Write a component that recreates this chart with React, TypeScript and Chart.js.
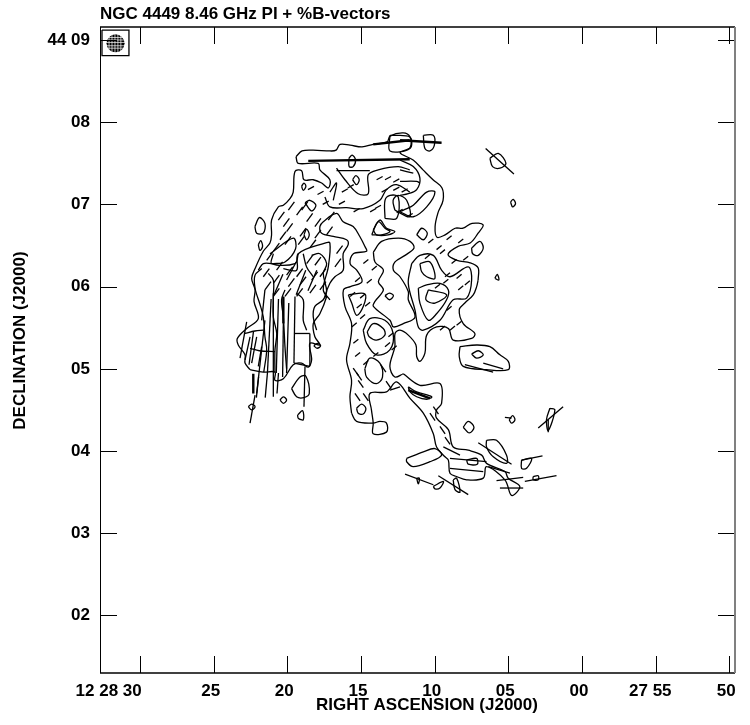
import React, { useEffect, useRef } from "react";
import { Chart, registerables } from "chart.js";

Chart.register(...registerables);

const raTickValues = [30, 25, 20, 15, 10, 5, 0, -5, -10];
const raTickLabels = ["12 28 30            ", "25", "20", "15", "10", "05", "00", "27 55 ", "50"];
const decTickValues = [9, 8, 7, 6, 5, 4, 3, 2];
const decTickLabels = ["44 09", "08", "07", "06", "05", "04", "03", "02"];

const titleText = "NGC 4449 8.46 GHz PI + %B-vectors";
const raTitle = "    RIGHT ASCENSION (J2000)";
const decTitle = "    DECLINATION (J2000)";

// Contours: flat [RA seconds, Dec arcmin, ...]
const northRim = [19.41,7.58, 19.0,7.65, 18.25,7.66, 17.10,7.65, 16.69,7.66, 16.42,7.73, 15.74,7.72, 14.93,7.70, 14.18,7.73, 13.23,7.76, 13.03,7.83, 12.14,7.87, 11.67,7.82, 11.67,7.69, 12.35,7.63, 11.46,7.54, 10.79,7.42, 10.11,7.30, 9.50,7.20, 9.43,7.05, 9.77,6.90, 9.97,6.73, 9.84,6.60, 9.29,6.63, 8.61,6.71, 8.07,6.71, 7.46,6.77, 6.71,6.75, 7.05,6.65, 7.59,6.53, 8.41,6.49, 9.09,6.39, 8.48,6.32, 7.59,6.29, 7.05,6.23, 7.05,6.08];
const eastLobe = [7.05,6.08, 7.15,6.0, 7.38,5.90, 7.95,5.80, 8.33,5.72, 8.06,5.55, 7.27,5.43, 7.49,5.37, 8.74,5.35, 9.07,5.49, 9.87,5.51, 10.54,5.41, 10.66,5.19, 11.0,5.09, 11.22,5.15, 11.27,5.29, 11.79,5.41, 12.35,5.47, 12.69,5.43, 12.70,5.27, 13.04,5.03, 12.70,4.90, 12.13,4.94];
const southRidge = [12.13,4.94, 11.0,4.80, 9.64,4.82, 9.53,4.58, 9.87,4.50, 9.87,4.40, 9.07,4.26, 8.74,4.05, 7.72,4.01, 6.81,3.95, 6.48,3.85, 5.23,3.75, 5.01,3.67, 4.22,3.57, 4.78,3.46, 5.23,3.65, 6.48,3.81, 6.70,3.67, 7.83,3.65, 8.51,3.69, 8.96,3.73, 9.07,3.89, 9.30,3.93, 9.87,4.05, 10.09,4.21, 10.77,4.46, 11.67,4.64, 12.58,4.84, 13.27,4.72, 14.40,4.70, 14.29,4.50, 14.17,4.34, 14.17,4.21, 13.27,4.23, 13.27,4.34, 13.72,4.36, 14.17,4.34, 15.3,4.36, 15.64,4.46];
const centralWest = [15.64,4.46, 15.75,4.66, 15.64,4.86, 15.98,5.11, 15.75,5.31, 15.64,5.55, 16.09,5.76, 16.19,5.96, 15.72,6.0, 14.93,6.06, 15.29,6.20, 15.74,6.28, 15.52,6.40, 14.62,6.43, 14.74,6.49, 15.08,6.61, 15.53,6.73, 16.21,6.79, 16.66,6.89, 17.56,6.79, 17.79,6.73, 17.67,6.65, 16.88,6.61, 15.98,6.57, 15.87,6.51, 16.21,6.40, 16.21,6.20, 16.77,6.12, 17.11,6.04, 17.45,5.88, 17.33,5.88, 17.79,5.67, 18.24,5.55, 18.13,5.39, 17.79,5.29, 18.47,5.31, 18.35,5.11, 18.58,5.02, 19.03,5.07, 19.60,5.05, 20.27,4.88, 20.84,4.86, 20.84,4.96, 21.63,4.96, 22.53,4.99];
const westArch = [22.53,4.99, 22.87,5.07, 22.87,5.17, 23.33,5.29, 23.39,5.37, 22.76,5.49, 21.97,5.61, 22.26,5.82, 22.19,5.96, 22.42,6.10, 22.19,6.22, 21.63,6.43, 21.18,6.53, 21.07,6.63, 21.07,6.81, 20.61,6.97, 20.27,6.99, 19.82,7.07, 19.60,7.15, 19.48,7.40, 19.03,7.41, 18.87,7.30, 18.24,7.30, 17.67,7.26, 17.22,7.20, 17.11,7.30, 17.79,7.42, 17.90,7.50, 19.26,7.50, 19.41,7.58];

const archInnerA = [21.18,6.40, 19.60,6.59, 19.44,6.46, 20.16,6.30, 20.95,6.28, 21.63,6.28, 21.97,6.20];
const archInnerB = [20.27,6.22, 19.37,6.20, 19.26,6.40, 17.45,6.53, 17.11,6.53, 17.22,6.24, 17.56,5.96, 17.11,5.84];
const bundleA = [21.74,6.22, 22.19,6.14, 22.19,5.98, 21.85,5.78, 21.63,5.63, 21.52,5.39, 21.4,5.23, 21.6,4.96];
const bundleB = [20.95,6.40, 21.06,6.28, 19.48,6.28, 19.26,6.40];
const bundleC = [21.29,6.16, 20.95,6.08, 20.95,5.88, 20.95,5.63, 20.72,5.43, 20.84,5.23, 20.84,4.96];
const bundleD = [20.16,5.96, 20.39,5.84, 20.27,5.63, 20.16,5.27, 20.05,5.0];
const bundleE = [19.37,5.92, 18.92,5.84, 18.92,5.59, 18.69,5.47];
const bundleF = [18.92,6.40, 18.69,6.24, 18.24,6.12];
const bundleG = [18.35,6.38, 17.79,6.40, 17.33,6.28, 17.56,6.16, 17.33,5.94, 17.56,5.84, 18.13,5.76, 18.24,5.63, 18.01,5.47];
const lobeCrossA = [22.88,5.43, 22.2,5.46, 21.63,5.47];
const lobeCrossB = [22.53,5.25, 21.9,5.22, 20.84,5.21];
const northInnerA = [16.66,7.44, 16.09,7.30, 15.19,7.13, 14.51,7.13, 14.51,7.36, 13.83,7.42, 12.48,7.46, 11.69,7.42];
const northInnerB = [17.45,7.09, 17.11,6.97, 15.98,6.96, 14.85,6.95, 13.72,7.05, 13.27,7.18, 12.59,7.24, 11.69,7.15];
const northInnerC = [17.11,7.15, 16.66,7.26, 16.88,7.05];
const northInnerD = [12.35,7.54, 11.45,7.46, 11.0,7.32, 11.22,7.18, 11.79,7.13, 12.35,7.11];
const northInnerE = [12.35,7.42, 11.45,7.38];
const northInnerF = [12.35,7.28, 11.22,7.28, 11.0,7.26];
const lobeR5 = [11.56,6.28, 11,6.38, 10.09,6.38, 9.53,6.20, 8.96,6.12, 7.72,6.24, 7.49,6.08, 7.83,5.86, 8.74,5.84, 9.64,5.59, 10.77,5.47, 11.11,5.51, 11.33,5.71, 11.79,6.04];

const closedRings = [
  [14.16,6.42, 13.6,6.55, 12.46,6.59, 11.67,6.55, 11.4,6.47, 12.01,6.38, 12.69,6.30, 12.80,6.20, 12.35,6.12, 11.79,5.94, 11.79,5.84, 11.33,5.63, 12.13,5.55, 12.8,5.51, 13.03,5.59, 14.16,5.76, 14.05,5.82, 13.48,5.96, 13.82,6.06, 13.48,6.20, 14.05,6.30],
  [13.37,5.89, 13.07,5.92, 12.8,5.89, 13.07,5.84],
  [11.22,6.63, 10.88,6.71, 10.5,6.65, 10.77,6.57],
  [14.27,6.63, 13.82,6.79, 13.37,6.71, 13.03,6.67, 13.6,6.63],
  [11,6.28, 10.32,6.30, 9.98,6.10, 10.54,6.12, 10.88,6.18],
  [11.11,5.98, 10.54,6.02, 9.64,6.04, 9.07,5.96, 9.19,5.84, 9.87,5.67, 10.43,5.59, 11,5.80],
  [10.43,5.96, 10.59,5.84, 9.98,5.80, 9.19,5.90],
  [15.86,5.90, 14.73,5.91, 14.84,5.76, 15.29,5.65, 15.63,5.80],
  [14.85,5.47, 14.4,5.61, 13.38,5.59, 12.82,5.43, 13.04,5.23, 13.95,5.17, 14.62,5.31],
  [14.58,5.45, 14.17,5.55, 13.49,5.49, 13.38,5.41, 13.95,5.35, 14.44,5.39],
  [14.74,5.0, 14.4,5.13, 13.72,5.07, 13.54,4.90, 13.95,4.82, 14.62,4.90],
  [15.3,4.52, 14.96,4.57, 14.67,4.52, 14.85,4.45, 15.19,4.46],
  [19.71,4.76, 19.14,4.90, 18.74,4.91, 18.51,4.70, 18.87,4.65, 19.37,4.66],
  [20.5,4.62, 20.27,4.66, 20.05,4.62, 20.27,4.58],
  [19.30,4.44, 18.96,4.49, 18.92,4.38, 19.26,4.40],
  [22.65,4.54, 22.42,4.57, 22.19,4.54, 22.42,4.50],
  [18.2,5.28, 17.97,5.31, 17.74,5.28, 17.97,5.25],
  [22.2,6.73, 21.9,6.84, 21.52,6.77, 21.63,6.65, 22.08,6.65],
  [21.97,6.51, 21.81,6.56, 21.68,6.49, 21.86,6.44],
  [18.87,6.63, 18.69,6.70, 18.51,6.63, 18.69,6.57],
  [18.80,7.02, 18.47,7.05, 18.06,6.99, 18.35,6.92],
  [19.03,7.22, 18.87,7.26, 18.74,7.22, 18.92,7.17],
  [15.82,7.56, 15.6,7.60, 15.37,7.54, 15.53,7.46, 15.8,7.46],
  [15.57,7.30, 15.35,7.35, 15.12,7.30, 15.3,7.24],
  [14.17,6.69, 13.72,6.81, 13.27,6.71, 12.7,6.67, 13.15,6.63, 13.95,6.63],
  [12.70,6.93, 12.82,7.05, 12.48,7.11, 11.9,7.05, 11.69,6.85],
  [13.37,6.83, 13.37,7.05, 13.03,7.11, 12.47,7.09, 12.58,6.83],
  [12.35,6.91, 11.45,6.85, 10.54,6.97, 9.98,7.15, 10.54,7.15, 11.45,6.99, 12.12,6.93],
  [13.03,7.84, 11.68,7.82, 11.68,7.68, 13.03,7.65],
  [8.28,5.27, 7.15,5.29, 6.25,5.27, 5.57,5.17, 5.0,5.09, 5.0,4.99, 6.48,4.99, 8.06,5.03, 8.33,5.15],
  [7.49,5.18, 7.04,5.22, 6.70,5.17, 7.15,5.13],
  [11.90,3.91, 10.77,3.99, 9.98,4.03, 9.53,3.95, 10.32,3.87, 11.45,3.81, 11.90,3.87],
  [8.06,4.29, 7.72,4.36, 7.33,4.29, 7.65,4.22],
  [4.94,4.38, 4.71,4.43, 4.55,4.38, 4.78,4.34],
  [2.18,4.52, 1.84,4.50, 2.29,4.25, 2.41,4.38],
  [6.48,4.13, 5.80,4.13, 5.12,3.95, 5.12,3.85, 6.02,3.93, 6.48,4.05],
  [4.10,3.89, 3.42,3.91, 3.76,3.79, 4.10,3.79],
  [11.79,4.78, 11.22,4.72, 10.2,4.66, 10.54,4.63, 11.22,4.66, 11.67,4.72],
  [3.31,3.69, 2.97,3.70, 2.97,3.65, 3.31,3.65],
  [10.09,3.57, 9.41,3.63, 9.64,3.55, 9.98,3.54],
  [11.22,3.67, 11.04,3.67, 11.11,3.60],
  [8.74,3.65, 8.51,3.67, 8.28,3.50, 8.62,3.53],
  [7.83,3.89, 7.15,3.91, 7.11,3.84, 7.72,3.84],
  [6.25,7.56, 5.68,7.62, 5.16,7.50, 5.57,7.44, 6.07,7.46],
  [4.85,7.03, 4.67,7.06, 4.51,7.01, 4.71,6.97],
  [5.91,6.10, 5.75,6.15, 5.64,6.08],
  [7.49,6.47, 6.93,6.55, 6.70,6.47, 7.04,6.38, 7.42,6.40],
  [10.77,7.84, 10.09,7.84, 10.02,7.72, 10.32,7.65, 10.66,7.68],
];

// Long %B-vectors: [ra1, dec1, ra2, dec2]
const longVectors = [
  [21.52,5.96, 21.74,5.59], [21.52,5.59, 22.08,4.70], [20.95,5.92, 20.95,4.66], [20.27,5.55, 20.32,4.90],
  [19.48,5.88, 19.55,5.07], [18.47,5.43, 18.47,5.03], [18.8,5.03, 18.87,4.54], [22.19,4.68, 22.53,4.34],
  [22.76,5.57, 23.21,5.13], [22.53,5.39, 22.87,5.11], [22.08,5.39, 22.42,5.07], [21.74,5.27, 21.97,5.03],
  [19.5,5.43, 18.47,5.43], [19.55,5.07, 18.47,5.03], [7.04,4.10, 4.78,3.84], [4.10,3.89, 2.68,3.94],
  [5.80,3.64, 3.99,3.68], [5.57,3.55, 3.99,3.55], [3.88,3.63, 1.73,3.70], [12.01,3.72, 10.09,3.59],
  [9.75,3.70, 7.72,3.47], [2.97,4.28, 1.28,4.54], [2.29,4.38, 2.29,4.23], [5.23,4.41, 4.78,4.40],
  [13.03,4.74, 12.35,4.78], [9.41,4.05, 8.28,3.95], [8.96,3.91, 6.48,3.87], [8.96,3.79, 6.70,3.75],
  [6.36,3.81, 4.89,3.73], [7.95,5.05, 6.03,4.96], [6.70,5.07, 5.35,5.0], [6.54,7.68, 4.62,7.37],
  [16.66,7.41, 14.4,7.41], [20.9,5.9, 20.3,6.15], [20.05,6.08, 19.4,6.3], [19.4,5.9, 18.75,6.2], [18.6,5.95, 18.0,6.2],
  [21.1,5.85, 21.35,4.95], [20.6,5.85, 20.75,4.95], [19.9,5.8, 20.05,4.95], [22.3,5.45, 22.6,5.05],
  [21.95,4.9, 22.1,4.65], [21.35,4.95, 21.5,4.65], [20.6,4.95, 20.7,4.7],
];
const heavyVectors = [
  [18.58,7.53, 11.69,7.55], [14.17,7.73, 11.69,7.78], [12.35,7.78, 9.53,7.75],
  [20.27,5.88, 20.27,5.55], [22.31,4.94, 22.31,4.70], [11.79,4.74, 10.32,4.64],
];

// Short vectors: anchor [ra, dec], with a per-region tilt [dRa, dDec]
const archVectors = [20.61,6.81, 20.27,6.73, 19.93,6.93, 19.37,6.87, 19.03,6.93, 18.69,6.79, 18.13,6.73, 17.22,6.81, 20.5,6.57, 20.05,6.67, 19.14,6.61, 18.13,6.59, 17.34,6.63, 20.95,6.43, 21.4,6.32, 20.16,6.51, 19.26,6.51, 18.47,6.47, 16.66,6.40, 16.77,6.24, 20.73,6.20, 20.05,6.14, 19.37,6.12, 18.69,6.28, 18.13,6.26, 21.63,6.12, 20.95,6.04, 19.93,6.0, 19.14,6.02, 18.35,6.08, 17.79,6.12, 21.52,5.96, 20.95,5.88, 20.16,5.88, 19.37,5.88, 18.47,5.92, 17.79,5.96];
const archTilt = [-0.41, 0.10];
const lobeVectors = [10.43,6.53, 9.87,6.45, 9.19,6.57, 8.40,6.53, 10.66,6.34, 9.64,6.40, 8.85,6.28, 8.06,6.32, 9.30,6.12, 8.51,6.10, 9.98,5.98, 9.41,6.04, 8.40,5.96, 7.95,6.02, 9.19,5.71, 8.51,5.53, 9.64,5.47, 8.96,5.47, 14.27,6.20, 14.84,6.28, 15.40,6.06, 14.61,6.04, 15.74,5.88, 15.06,5.86, 14.72,5.76, 15.29,5.74, 15.06,5.61, 15.63,5.51, 13.14,5.39, 13.37,5.27, 12.92,5.23, 15.52,5.31, 15.40,5.15, 14.84,5.05, 14.16,5.15];
const lobeTilt = [-0.34, 0.05];
const northVectors = [13.94,7.30, 13.37,7.30, 12.81,7.27, 13.6,7.15, 12.81,7.17, 12.24,7.15, 11.9,6.85, 12.58,6.9, 14.05,6.95, 14.38,6.91, 15.5,6.91, 16.5,7.0, 16.3,7.15, 15.9,7.2, 17.6,7.0, 18.6,7.18, 17.95,7.12];
const northTilt = [-0.41, 0.04];
const ridgeVectors = [15.53,5.01, 15.19,4.86, 15.41,4.70, 14.85,4.70, 15.3,4.95, 13.66,5.05, 13.3,4.85, 10.32,4.46, 9.64,4.30, 9.3,4.17, 10.09,4.54];
const ridgeTilt = [-0.35, -0.09];

// Beam box
const beamBox = [32.58,9.12, 30.75,9.12, 30.75,8.81, 32.58,8.81, 32.58,9.12];
const beamCenter = [31.66, 8.96];
const beamGridRa = [32.1, 31.9, 31.7, 31.5, 31.3];
const beamGridDec = [8.90, 8.93, 8.97, 9.0, 9.03];

const pts = (flat: number[]) => {
  const out: { x: number; y: number }[] = [];
  for (let i = 0; i < flat.length; i += 2) out.push({ x: flat[i], y: flat[i + 1] });
  return out;
};

const lineSet = (flat: number[], width = 1.3, color = "#000", tension = 0) => ({
  data: pts(flat),
  showLine: true,
  borderColor: color,
  borderWidth: width,
  pointRadius: 0,
  fill: false,
  tension,
  clip: false,
});

const contourSet = (flat: number[]) => lineSet(flat, 1.3, "#000", 0.35);

const tiltedSet = (anchors: number[], tilt: number[]) =>
  Array.from({ length: anchors.length / 2 }, (_, i) =>
    lineSet([anchors[2 * i], anchors[2 * i + 1], anchors[2 * i] + tilt[0], anchors[2 * i + 1] + tilt[1]])
  );

const font = { family: "'Liberation Sans', Arial, sans-serif", size: 17, weight: "bold" as const };

const framePlugin = {
  id: "frame",
  afterDatasetsDraw(chart: any) {
    const { ctx, chartArea: a, scales } = chart;
    const len = 17;
    ctx.save();
    ctx.strokeStyle = "#000";
    ctx.lineWidth = 1;
    const seg = (x1: number, y1: number, x2: number, y2: number) => {
      ctx.beginPath();
      ctx.moveTo(x1, y1);
      ctx.lineTo(x2, y2);
      ctx.stroke();
    };
    raTickValues.forEach((v) => {
      const x = Math.round(scales.x.getPixelForValue(v)) + 0.5;
      seg(x, a.bottom, x, a.bottom - len);
      seg(x, a.top, x, a.top + len);
    });
    decTickValues.forEach((v) => {
      const y = Math.round(scales.y.getPixelForValue(v)) + 0.5;
      seg(a.left, y, a.left + len, y);
      seg(a.right, y, a.right - len, y);
    });
    ctx.lineWidth = 1.5;
    seg(a.left, a.top, a.right, a.top);
    seg(a.left, a.bottom, a.right, a.bottom);
    ctx.lineWidth = 1;
    seg(a.left + 0.5, a.top, a.left + 0.5, a.bottom);
    ctx.strokeStyle = "#808080";
    ctx.lineWidth = 2;
    seg(a.right, a.top, a.right, a.bottom);
    ctx.restore();
  },
};

export default function App() {
  const ref = useRef<HTMLCanvasElement>(null);
  useEffect(() => {
    if (!ref.current) return;
    const datasets: any[] = [
      ...[northRim, eastLobe, southRidge, centralWest, westArch, archInnerA, archInnerB, bundleA, bundleB, bundleC, bundleD, bundleE, bundleF, bundleG, lobeCrossA, lobeCrossB, northInnerA, northInnerB, northInnerC, northInnerD, northInnerE, northInnerF].map((c) => contourSet(c)),
      contourSet([...lobeR5, lobeR5[0], lobeR5[1]]),
      ...closedRings.map((c) => contourSet([...c, c[0], c[1]])),
      ...longVectors.map((v) => lineSet(v)),
      ...heavyVectors.map((v) => lineSet(v, 2.4)),
      ...tiltedSet(archVectors, archTilt),
      ...tiltedSet(lobeVectors, lobeTilt),
      ...tiltedSet(northVectors, northTilt),
      ...tiltedSet(ridgeVectors, ridgeTilt),
      lineSet(beamBox),
      ...beamGridRa.map((r) => lineSet([r, 8.84, r, 9.08], 0.7, "#fff")),
      ...beamGridDec.map((d) => lineSet([32.4, d, 30.95, d], 0.7, "#fff")),
      {
        data: [{ x: beamCenter[0], y: beamCenter[1] }],
        showLine: false,
        pointRadius: 9,
        pointStyle: "circle",
        backgroundColor: "#000",
        borderColor: "#000",
        borderWidth: 0,
      },
    ];
    const chart = new Chart(ref.current, {
      type: "scatter",
      data: { datasets },
      plugins: [framePlugin],
      options: {
        responsive: false,
        animation: false,
        layout: { padding: { top: 0, right: 15, left: 0, bottom: 0 } },
        plugins: {
          legend: { display: false },
          tooltip: { enabled: false },
          title: {
            display: true,
            text: titleText,
            align: "start",
            font,
            color: "#000",
            padding: { top: 4, bottom: 2.6 },
            position: "top",
            fullSize: false,
          },
        },
        scales: {
          x: {
            type: "linear",
            reverse: true,
            min: -10.387,
            max: 32.715,
            grid: { display: false },
            border: { display: false },
            afterBuildTicks: (s: any) => {
              s.ticks = raTickValues.map((value) => ({ value }));
            },
            afterFit: (s: any) => {
              s.height = 52;
            },
            ticks: {
              autoSkip: false,
              maxRotation: 0,
              minRotation: 0,
              color: "#000",
              font,
              padding: 0,
              labelOffset: -3,
              callback: (_v: any, i: number) => raTickLabels[i],
            },
            title: { display: true, text: raTitle, color: "#000", font, padding: { top: 0, bottom: 9 } },
          },
          y: {
            type: "linear",
            min: 1.3,
            max: 9.158,
            grid: { display: false },
            border: { display: false },
            afterBuildTicks: (s: any) => {
              s.ticks = decTickValues.map((value) => ({ value }));
            },
            afterFit: (s: any) => {
              s.width = 100;
            },
            ticks: {
              autoSkip: false,
              color: "#000",
              font,
              padding: 2,
              callback: (_v: any, i: number) => decTickLabels[i],
            },
            title: { display: true, text: decTitle, color: "#000", font, padding: { top: 10, bottom: 0 } },
          },
        },
      } as any,
    });
    return () => chart.destroy();
  }, []);
  return (
    <div style={{ position: "absolute", left: 0, top: 0, width: 750, height: 725 }}>
      <canvas ref={ref} width={750} height={725} style={{ display: "block" }} />
    </div>
  );
}
